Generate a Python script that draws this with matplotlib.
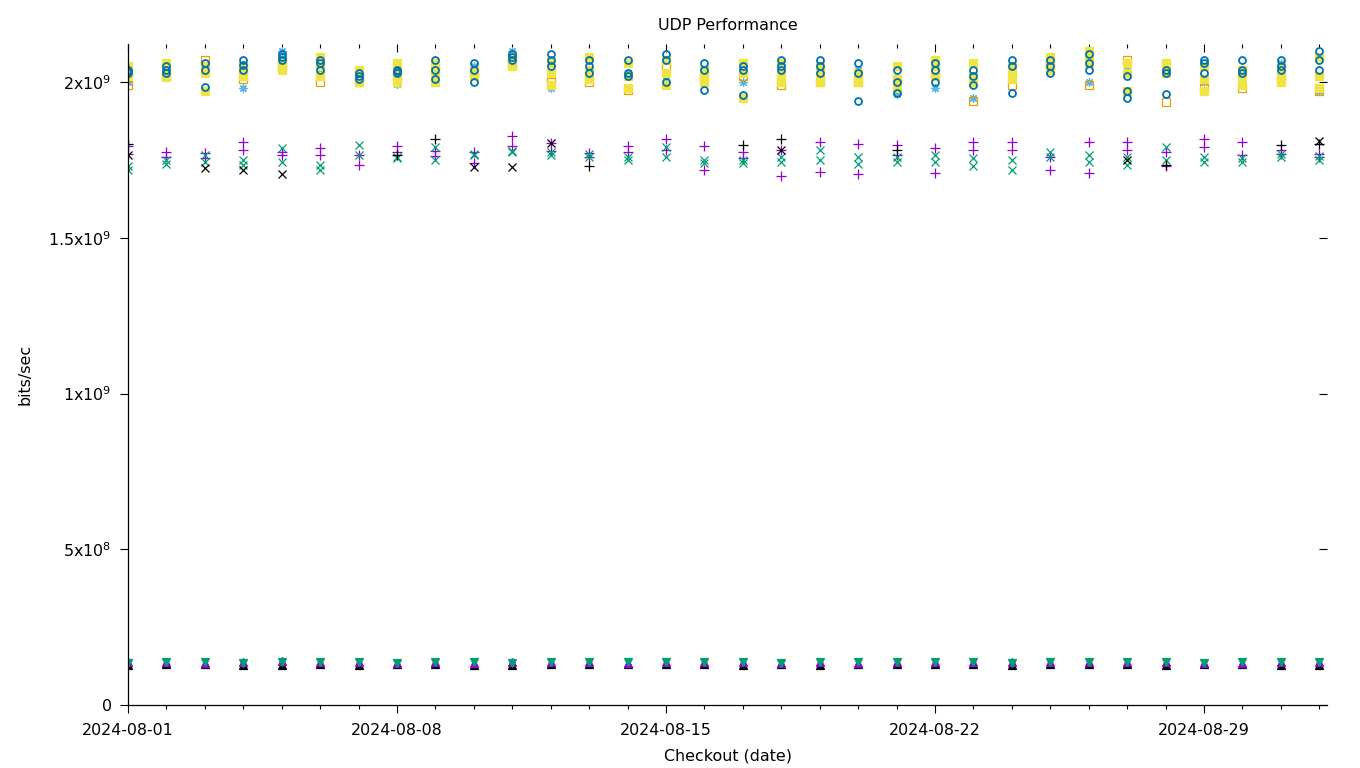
import numpy as np
import pandas as pd
import matplotlib
matplotlib.use("Agg")
import matplotlib.pyplot as plt
import matplotlib.dates as mdates
from matplotlib.ticker import FixedLocator

nan = np.nan

# one checkout per day, 2024-08-01 .. 2024-09-01
dates = pd.date_range("2024-08-01", periods=32, freq="D")
label_dates = pd.to_datetime(["2024-08-01", "2024-08-08", "2024-08-15", "2024-08-22", "2024-08-29"])

# values in Gbit/s (scaled to bits/sec when plotted)
# upper group
circ_a = [2.04, 2.05, 2.06, 2.07, 2.09, 2.07, 2.02, 2.04, 2.07, 2.06, 2.09, 2.09, 2.07, 2.07, 2.09, 2.06,
          2.04, 2.07, 2.07, 2.06, 2.04, 2.06, 2.04, 2.07, 2.07, 2.09, 2.02, 2.04, 2.07, 2.07, 2.07, 2.10]
circ_b = [2.03, 2.03, 1.985, 2.04, 2.07, 2.04, 2.03, 2.03, 2.01, 2.00, 2.07, 2.05, 2.03, 2.02, 2.00, 1.975,
          1.958, 2.04, 2.03, 1.94, 1.965, 2.00, 1.99, 1.965, 2.03, 2.04, 1.95, 1.96, 2.03, 2.03, 2.04, 2.04]
circ_c = [2.035, 2.04, 2.04, 2.055, 2.08, 2.06, 2.01, 2.035, 2.04, 2.04, 2.08, 2.07, 2.05, 2.03, 2.07, 2.04,
          2.05, 2.05, 2.05, 2.03, 2.00, 2.04, 2.02, 2.05, 2.05, 2.06, 1.97, 2.03, 2.06, 2.04, 2.05, 2.07]
fsq_a = [2.05, 2.06, 2.03, 2.05, 2.06, 2.08, 2.04, 2.06, 2.06, 2.04, 2.08, 2.06, 2.08, 2.06, 2.07, 2.04,
         2.06, 2.06, 2.05, 2.03, 2.05, 2.07, 2.06, 2.05, 2.08, 2.10, 2.06, 2.06, 2.05, 2.04, 2.05, 2.08]
fsq_b = [2.02, 2.015, 1.97, 2.02, 2.04, 2.02, 2.00, 2.00, 2.00, 2.02, 2.05, 1.99, 2.01, 1.98, 1.99, 2.00,
         1.95, 2.00, 2.00, 2.00, 1.98, 2.02, 2.02, 2.01, 2.04, 2.06, 1.97, 2.03, 1.97, 1.99, 2.00, 1.98]
fsq_c = [2.03, 2.04, 2.05, 2.03, 2.05, 2.05, 2.02, 2.03, 2.03, 2.03, 2.06, 2.03, 2.04, 2.02, 2.03, 2.02,
         2.03, 2.03, 2.03, 2.02, 2.01, 2.05, 2.00, 2.03, 2.06, 2.08, 2.03, 2.05, 2.01, 2.02, 2.03, 2.02]
osq = [1.99, 2.02, 2.07, 2.01, 2.05, 2.00, 2.00, 2.02, 2.04, 2.03, 2.06, 2.00, 2.00, 1.975, 2.05, 2.01,
       2.02, 1.99, 2.00, 2.00, 2.01, 2.03, 1.94, 1.99, 2.05, 1.99, 2.07, 1.935, 1.98, 1.98, 2.02, 1.97]
star = [2.00, 2.04, 2.05, 1.98, 2.10, 2.03, 2.01, 1.995, 2.03, 2.05, 2.10, 1.98, 2.04, 2.03, 2.02, 2.03,
        2.00, 2.03, 2.02, 2.04, 1.96, 1.98, 1.95, 2.02, 2.06, 2.00, 2.04, 2.05, 2.00, 2.00, 2.06, 1.97]

# middle group
plus_a = [1.795, 1.775, 1.772, 1.807, 1.766, 1.788, 1.766, 1.795, 1.762, 1.775, 1.827, 1.804, 1.772, 1.795,
          1.817, 1.795, 1.775, 1.698, 1.807, 1.800, 1.798, 1.708, 1.807, 1.807, 1.717, 1.807, 1.807, 1.775,
          1.817, 1.807, 1.782, 1.759]
plus_b = [1.770, 1.759, 1.756, 1.782, 1.775, 1.766, 1.734, 1.775, 1.780, 1.740, 1.795, 1.780, 1.760, 1.775,
          1.782, 1.717, 1.756, 1.782, 1.711, 1.705, 1.766, 1.788, 1.782, 1.782, 1.760, 1.708, 1.782, 1.730,
          1.791, 1.766, 1.770, 1.770]
cross_a = [1.730, 1.750, 1.766, 1.750, 1.788, 1.734, 1.798, 1.756, 1.791, 1.766, 1.775, 1.775, 1.759, 1.750,
           1.791, 1.750, 1.740, 1.743, 1.782, 1.759, 1.743, 1.766, 1.756, 1.750, 1.775, 1.766, 1.734, 1.791,
           1.743, 1.743, 1.759, 1.750]
cross_b = [1.717, 1.737, 1.743, 1.734, 1.743, 1.717, 1.766, 1.760, 1.750, 1.770, 1.780, 1.766, 1.770, 1.760,
           1.759, 1.740, 1.750, 1.760, 1.750, 1.737, 1.760, 1.743, 1.730, 1.717, 1.760, 1.743, 1.760, 1.750,
           1.760, 1.756, 1.770, 1.762]
black_plus = [1.800, nan, nan, nan, nan, nan, nan, 1.766, 1.817, nan, nan, nan, 1.730, nan, nan, nan,
              1.798, 1.817, nan, nan, 1.782, nan, nan, nan, nan, nan, nan, 1.734, nan, nan, 1.798, 1.800]
black_cross = [1.765, nan, 1.724, 1.717, 1.705, nan, nan, nan, nan, 1.727, 1.727, 1.804, nan, nan, nan, nan,
               nan, 1.782, nan, nan, nan, nan, nan, nan, nan, nan, 1.750, nan, nan, nan, nan, 1.810]

# bottom group
tri_black = [0.130, 0.131, 0.131, 0.130, 0.130, 0.131, 0.130, 0.131, 0.131, 0.129, 0.130, 0.131, 0.131, 0.131,
             0.131, 0.131, 0.130, 0.131, 0.130, 0.131, 0.132, 0.132, 0.131, 0.130, 0.131, 0.131, 0.131, 0.130,
             0.131, 0.131, 0.130, 0.130]
tri_purple = [0.138, 0.137, 0.136, 0.137, 0.141, 0.138, 0.137, 0.136, 0.137, 0.136, 0.139, 0.138, 0.137, 0.135,
              0.138, 0.137, 0.137, 0.136, 0.137, 0.136, 0.139, 0.138, 0.137, 0.137, 0.137, 0.138, 0.137, 0.137,
              0.136, 0.136, 0.138, 0.138]
tri_green = [0.136, 0.138, 0.138, 0.136, 0.139, 0.138, 0.137, 0.136, 0.137, 0.139, 0.136, 0.138, 0.138, 0.137,
             0.139, 0.138, 0.138, 0.135, 0.137, 0.137, 0.138, 0.139, 0.138, 0.136, 0.137, 0.139, 0.137, 0.137,
             0.136, 0.137, 0.139, 0.139]

ytick_vals = [0, 0.5e9, 1.0e9, 1.5e9, 2.0e9]
ytick_labels = ["0", "5x10$^{8}$", "1x10$^{9}$", "1.5x10$^{9}$", "2x10$^{9}$"]

plt.rcParams["font.family"] = "DejaVu Sans"
plt.rcParams["font.size"] = 11.4
plt.rcParams["mathtext.fontset"] = "dejavusans"

fig = plt.figure(figsize=(13.6, 7.68), dpi=100)
ax = fig.add_axes([128 / 1360, 1 - 705 / 768, (1327 - 128) / 1360, (705 - 44) / 768])

G = 1e9
ms = 6


def pts(vals, **kw):
    kw.setdefault("markeredgewidth", 0.9)
    ax.plot(dates, np.array(vals) * G, linestyle="none", **kw)


# middle group
pts(plus_a, marker="+", color="#9400d3", markersize=ms + 1)
pts(plus_b, marker="+", color="#9400d3", markersize=ms + 1)
pts(cross_a, marker="x", color="#009e73", markersize=ms)
pts(cross_b, marker="x", color="#009e73", markersize=ms)
pts(black_plus, marker="+", color="black", markersize=ms + 1)
pts(black_cross, marker="x", color="black", markersize=ms)

# upper group
pts(star, marker=(8, 2, 0), color="#56b4e9", markersize=ms)
pts(osq, marker="s", color="#e69f00", markerfacecolor="none", markersize=ms)
for v in (fsq_a, fsq_b, fsq_c):
    pts(v, marker="s", color="#f0e442", markersize=ms)
for v in (circ_a, circ_b, circ_c):
    pts(v, marker="o", color="#0072b2", markerfacecolor="none", markersize=ms - 1, markeredgewidth=1.3)

# bottom group
pts(tri_black, marker="^", color="black", markersize=ms)
pts(tri_purple, marker="^", color="#9400d3", markersize=ms)
pts(tri_green, marker="v", color="#009e73", markersize=ms)

ax.set_xlim(dates[0], dates[0] + pd.Timedelta(days=(1327 - 128) / 38.43))
ax.set_ylim(0, 2.0e9 + (82 - 44) / 311.5 * 1e9)

ax.xaxis.set_major_locator(FixedLocator(mdates.date2num(label_dates)))
ax.xaxis.set_minor_locator(mdates.DayLocator())
ax.xaxis.set_major_formatter(mdates.DateFormatter("%Y-%m-%d"))
ax.yaxis.set_major_locator(FixedLocator(ytick_vals))
ax.set_yticklabels(ytick_labels)

ax.tick_params(which="major", direction="out", length=5.8, width=0.8)
ax.tick_params(axis="x", which="major", pad=7)
ax.tick_params(axis="y", which="major", pad=6)
ax.tick_params(which="minor", direction="out", length=2.9, width=0.8)
ax.spines["top"].set_visible(False)
ax.spines["right"].set_visible(False)
ax.spines["left"].set_linewidth(0.9)
ax.spines["bottom"].set_linewidth(0.9)

# mirrored tics on top and right, pointing inward
top = ax.secondary_xaxis("top")
top.xaxis.set_major_locator(FixedLocator(mdates.date2num(label_dates)))
top.xaxis.set_minor_locator(mdates.DayLocator())
top.tick_params(which="major", direction="in", length=5.8, width=0.8, labeltop=False)
top.tick_params(which="minor", direction="in", length=2.9, width=0.8)
top.spines["top"].set_visible(False)

right = ax.secondary_yaxis("right")
right.yaxis.set_major_locator(FixedLocator(ytick_vals))
right.tick_params(direction="in", length=5.8, width=0.8, labelright=False)
right.spines["right"].set_visible(False)

ax.set_title("UDP Performance", fontsize=11.4, pad=10)
ax.set_xlabel("Checkout (date)", labelpad=8)
ax.set_ylabel("bits/sec", labelpad=11)

fig.savefig("out.png", dpi=100)
plt.close(fig)
